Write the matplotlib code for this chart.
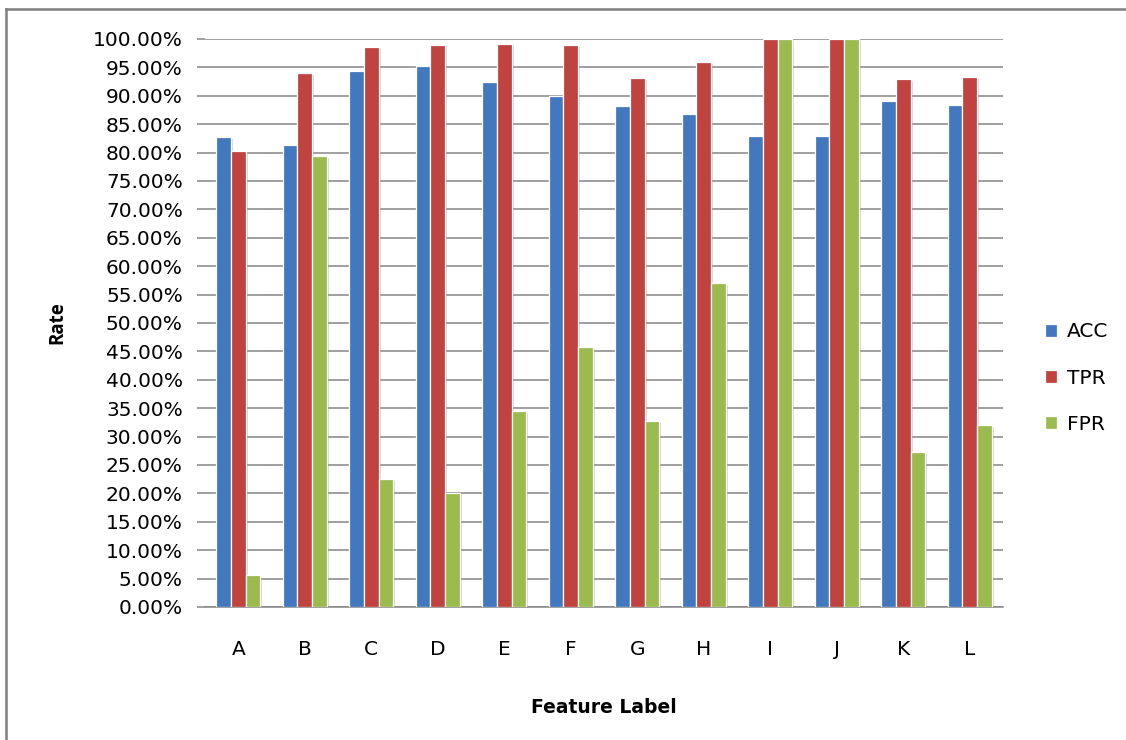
import numpy as np
import matplotlib
matplotlib.use('Agg')
import matplotlib.pyplot as plt
import matplotlib.patheffects as pe
from matplotlib.lines import Line2D
from matplotlib.ticker import MultipleLocator, FuncFormatter

features = ['A', 'B', 'C', 'D', 'E', 'F', 'G', 'H', 'I', 'J', 'K', 'L']
acc = [82.7, 81.3, 94.4, 95.2, 92.4, 90.0, 88.2, 86.8, 82.9, 82.9, 89.1, 88.4]
tpr = [80.3, 94.0, 98.6, 98.9, 99.1, 98.9, 93.1, 96.0, 100.0, 100.0, 93.0, 93.3]
fpr = [5.6, 79.4, 22.5, 20.1, 34.5, 45.8, 32.7, 57.0, 100.0, 100.0, 27.3, 32.0]

series = [('ACC', acc, '#4178be'), ('TPR', tpr, '#c0433f'), ('FPR', fpr, '#9bbb4f')]

plt.rcParams['font.family'] = ['DejaVu Sans']

fig = plt.figure(figsize=(11.26, 7.40), dpi=100)
ax = fig.add_axes([205 / 1126, 1 - 607 / 740, (1003 - 205) / 1126, (607 - 39) / 740])

x = np.arange(len(features))
width = 0.222
shadow = [pe.SimplePatchShadow(offset=(1.5, -1.5), shadow_rgbFace='#888888', alpha=0.35), pe.Normal()]
for i, (name, values, color) in enumerate(series):
    bars = ax.bar(x + (i - 1) * width, values, width, color=color, edgecolor='white',
                  linewidth=0.9, label=name, zorder=3)
    for b in bars:
        b.set_path_effects(shadow)

ax.set_xlim(-0.5, len(features) - 0.5)
ax.set_ylim(0, 100)
ax.yaxis.set_major_locator(MultipleLocator(5))
ax.yaxis.set_major_formatter(FuncFormatter(lambda v, p: '%.2f%%' % v))
ax.set_xticks(x)
ax.set_xticklabels(features)

ax.grid(axis='y', color='#868686', linewidth=1.1, zorder=0)
for side in ['top', 'right', 'left']:
    ax.spines[side].set_visible(False)
ax.spines['bottom'].set_color('#868686')
ax.spines['bottom'].set_linewidth(1.1)
ax.tick_params(axis='y', length=6, color='#868686', width=1.1, pad=10, labelsize=14.5)
ax.tick_params(axis='x', length=0, pad=24, labelsize=14.5)

ax.set_xlabel('Feature Label', fontsize=13.5, fontweight='bold')
ax.set_ylabel('Rate', fontsize=13.5, fontweight='bold', family='Open Sans')
ax.xaxis.set_label_coords(0.5, -0.160)
ax.yaxis.set_label_coords(-0.172, 0.5)

leg = ax.legend(loc='center left', bbox_to_anchor=(1.030, 0.403), frameon=False, fontsize=14.5,
                handlelength=0.6, handleheight=0.6, labelspacing=1.35, handletextpad=0.5)
for h in leg.legend_handles:
    h.set_path_effects([])

# outer chart border (left and top edges)
fig.add_artist(Line2D([6 / 1126, 6 / 1126], [0, 1 - 9 / 740], color='#808080', linewidth=1.8,
                      transform=fig.transFigure))
fig.add_artist(Line2D([6 / 1126, 1], [1 - 9 / 740, 1 - 9 / 740], color='#808080', linewidth=1.8,
                      transform=fig.transFigure))

fig.savefig('out.png', dpi=100)
